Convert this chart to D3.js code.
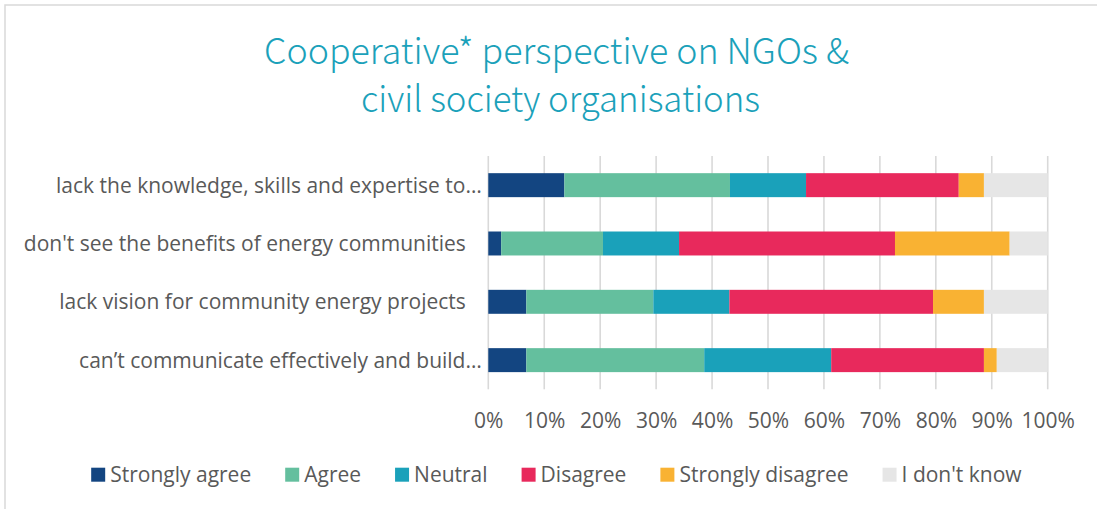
<!DOCTYPE html>
<html>
<head>
<meta charset="utf-8">
<script src="https://cdn.jsdelivr.net/npm/d3@7"></script>
<style>
  html, body { margin: 0; padding: 0; background: #ffffff; }
  svg { display: block; }
</style>
</head>
<body>
<svg id="chart" width="1097" height="509"></svg>
<script>
// Survey statements, listed top to bottom
const categories = [
  "lack the knowledge, skills and expertise to…",
  "don't see the benefits of energy communities",
  "lack vision for community energy projects",
  "can’t communicate effectively and build…"
];

// Answer categories, in stacking order
const seriesNames = ["Strongly agree", "Agree", "Neutral", "Disagree", "Strongly disagree", "I don't know"];

// Share of respondents (%) per statement
const stronglyAgree    = [13.6,  2.3,  6.8,  6.8];
const agree            = [29.6, 18.2, 22.7, 31.8];
const neutral          = [13.6, 13.6, 13.6, 22.7];
const disagree         = [27.3, 38.6, 36.4, 27.3];
const stronglyDisagree = [ 4.5, 20.5,  9.1,  2.3];
const dontKnow         = [11.4,  6.8, 11.4,  9.1];

// Axis ticks (%)
const xTicks = [0, 10, 20, 30, 40, 50, 60, 70, 80, 90, 100];

const titleLines = ["Cooperative* perspective on NGOs &", "civil society organisations"];

const colors = ["#134581", "#64BF9E", "#1AA1BA", "#E8295C", "#F9B233", "#E6E6E6"];

const seriesValues = [stronglyAgree, agree, neutral, disagree, stronglyDisagree, dontKnow];
const rows = categories.map((c, i) => {
  const r = { category: c };
  seriesNames.forEach((s, k) => { r[s] = seriesValues[k][i]; });
  return r;
});

const W = 1097, H = 509;
const FONT = "'Open Sans', sans-serif";
const TEXT = "#595959";

const svg = d3.select("#chart");

// chart frame (only its top and left edges fall inside the page)
svg.append("rect")
  .attr("x", 5).attr("y", 5)
  .attr("width", W + 20).attr("height", H + 20)
  .attr("fill", "#ffffff")
  .attr("stroke", "#d9d9d9").attr("stroke-width", 1.5);

// title
const titleG = svg.append("g")
  .attr("font-family", "'Noto Sans CJK JP', 'Noto Sans', sans-serif")
  .attr("font-size", 36)
  .attr("font-weight", 300)
  .attr("fill", "#1BA1BA")
  .attr("text-anchor", "middle");
const titleLayout = [
  { cx: 556.5, base: 64, len: 585 },
  { cx: 560.5, base: 112, len: 399 }
];
titleLines.forEach((t, i) => {
  titleG.append("text")
    .attr("x", titleLayout[i].cx)
    .attr("y", titleLayout[i].base)
    .attr("textLength", titleLayout[i].len)
    .attr("lengthAdjust", "spacingAndGlyphs")
    .text(t);
});

// plot area
const plot = { left: 488.3, right: 1047.7, top: 156, bottom: 389.3 };
const x = d3.scaleLinear().domain([0, 100]).range([plot.left, plot.right]);
const y = d3.scaleBand()
  .domain(categories)
  .range([plot.top, plot.bottom])
  .paddingInner(0.589)
  .paddingOuter(0.2945);
const color = d3.scaleOrdinal().domain(seriesNames).range(colors);

// vertical gridlines
svg.append("g")
  .selectAll("line")
  .data(xTicks)
  .join("line")
  .attr("x1", d => x(d)).attr("x2", d => x(d))
  .attr("y1", plot.top).attr("y2", plot.bottom)
  .attr("stroke", "#d9d9d9")
  .attr("stroke-width", 1.6);

// stacked bars
const stacked = d3.stack().keys(seriesNames)(rows);
svg.append("g")
  .selectAll("g")
  .data(stacked)
  .join("g")
  .attr("fill", d => color(d.key))
  .selectAll("rect")
  .data(d => d)
  .join("rect")
  .attr("x", d => x(d[0]))
  .attr("width", d => x(d[1]) - x(d[0]))
  .attr("y", d => y(d.data.category))
  .attr("height", y.bandwidth());

// x axis labels
const xAxis = svg.append("g")
  .attr("transform", `translate(0,${plot.bottom})`)
  .call(d3.axisBottom(x).tickValues(xTicks).tickFormat(d => d + "%").tickSize(0));
xAxis.select(".domain").remove();
xAxis.selectAll("text")
  .attr("dy", null)
  .attr("y", 428 - plot.bottom)
  .attr("font-family", FONT)
  .attr("font-size", 21)
  .attr("fill", TEXT);

// category labels
const yAxis = svg.append("g")
  .attr("transform", `translate(${plot.left},0)`)
  .call(d3.axisLeft(y).tickSize(0));
yAxis.select(".domain").remove();
yAxis.selectAll("text")
  .attr("dy", null)
  .attr("y", 7.5)
  .attr("x", d => d.endsWith("…") ? -6.5 : -22.5)
  .attr("font-family", FONT)
  .attr("font-size", 21)
  .attr("fill", TEXT);

// legend
const legend = svg.append("g");
const items = legend.selectAll("g")
  .data(seriesNames)
  .join("g");
items.append("rect")
  .attr("x", 0).attr("y", 467.7)
  .attr("width", 14).attr("height", 14)
  .attr("fill", d => color(d));
items.append("text")
  .attr("x", 19).attr("y", 482.2)
  .attr("font-family", FONT)
  .attr("font-size", 21)
  .attr("fill", TEXT)
  .text(d => d);
const gap = 34;
let cursor = 0;
const offsets = [];
items.each(function () {
  const w = 19 + d3.select(this).select("text").node().getComputedTextLength();
  offsets.push(cursor);
  cursor += w + gap;
});
const total = cursor - gap;
const start = 556.4 - total / 2;
items.attr("transform", (d, i) => `translate(${start + offsets[i]},0)`);
</script>
</body>
</html>
